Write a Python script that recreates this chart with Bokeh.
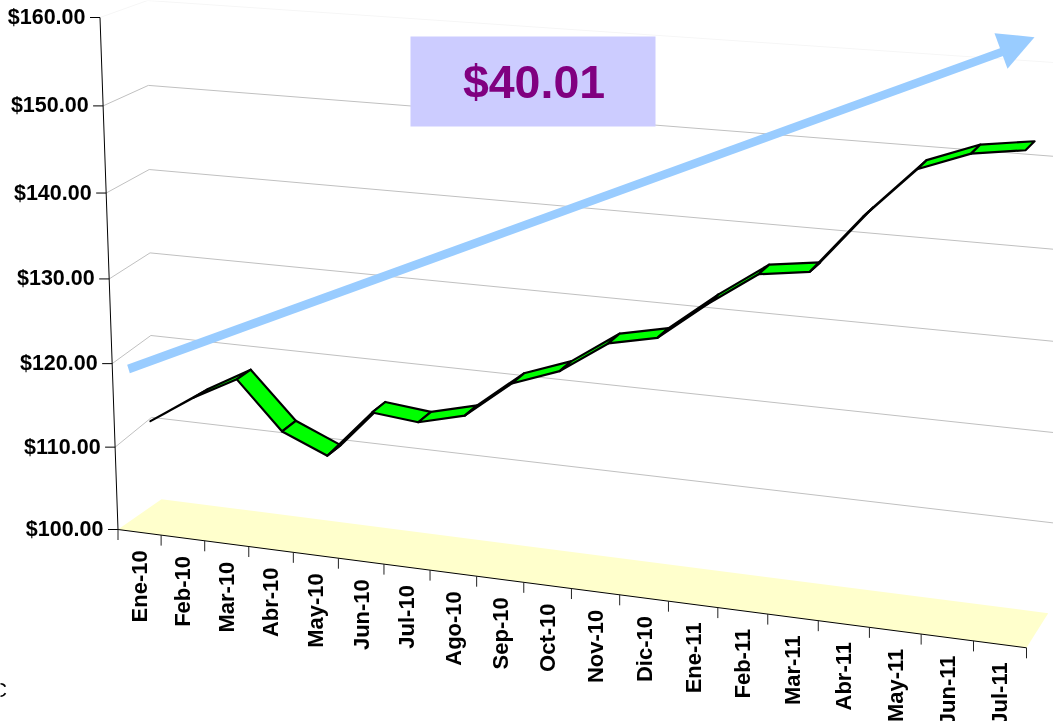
import numpy as np
from bokeh.plotting import figure
from bokeh.models import Range1d
from bokeh.core.properties import value
from bokeh.embed import file_html
from bokeh.resources import INLINE

# ---------- data ----------
months = ["Ene-10","Feb-10","Mar-10","Abr-10","May-10","Jun-10","Jul-10","Ago-10","Sep-10","Oct-10",
          "Nov-10","Dic-10","Ene-11","Feb-11","Mar-11","Abr-11","May-11","Jun-11","Jul-11"]
prices = [112.70,116.10,118.90,113.40,111.20,116.90,116.40,117.80,122.10,124.10,
          127.80,129.00,133.30,137.10,137.90,144.30,149.80,151.90,152.71]
y_ticks = [100,110,120,130,140,150,160]
y_labels = ["$100.00","$110.00","$120.00","$130.00","$140.00","$150.00","$160.00"]
gain_label = "$40.01"

# ---------- perspective set-up (page pixels) ----------
def homography(src, dst):
    A, b = [], []
    for (u, v), (x, y) in zip(src, dst):
        A.append([u, v, 1, 0, 0, 0, -u*x, -v*x]); b.append(x)
        A.append([0, 0, 0, u, v, 1, -u*y, -v*y]); b.append(y)
    return np.append(np.linalg.solve(np.array(A, float), np.array(b, float)), 1).reshape(3, 3)

def project(M, u, v):
    p = M @ np.array([u, v, 1.0])
    return p[0]/p[2], p[1]/p[2]

n = len(months)
CORNERS = [(0,100),(0,160),(n,100),(n,160)]
FRONT = homography(CORNERS, [(117.5,529),(99.5,17),(1026,647.3),(1050,79.3)])
BACK  = homography(CORNERS, [(152,498),(147,0),(1053,612),(1075,63.5)])

s = 9.4; lh = 512; ax, ay = 1025.0, 150.7; lx0, ly0 = 152.6, 421 + 12.3*lh/60
SER_CORNERS = [(0,100),(0,160),(n-1,100),(n-1,160)]
S_DST = [(lx0,ly0),(139.6,ly0-lh),(ax-20*52.35/60,ay+52.35*s),(ax+20*7.65/60,ay-7.65*s)]
RIB_FRONT = homography(SER_CORNERS, S_DST)
off = [(14.5,-11),(14.5,-11),(9,-9),(9,-9)]
RIB_BACK = homography(SER_CORNERS, [(x+o[0], y+o[1]) for (x,y),o in zip(S_DST,off)])
# the first ribbon segments are seen almost edge-on in the original
EDGE_ON = {0:0.72, 1:0.78, 2:0.9}

p = figure(width=1053, height=721, x_range=Range1d(0,1053), y_range=Range1d(721,0),
           output_backend="svg", toolbar_location=None, min_border=0,
           styles={"position":"fixed","left":"0px","top":"0px"})
p.xaxis.visible = False; p.yaxis.visible = False
p.grid.visible = False; p.outline_line_color = None
p.background_fill_color = "white"; p.border_fill_color = "white"

FONT = value("Liberation Sans")

# floor
fl, fr = project(FRONT,0,100), project(FRONT,n,100)
p.patch([fl[0],161,1047.7,fr[0]],[fl[1],498.7,612.7,fr[1]], fill_color="#FFFFCC", line_color=None)

# wall grid
for t in y_ticks[1:]:
    col = "#F6F6F6" if t == 160 else "#C0C0C0"
    a, b, c = project(FRONT,0,t), project(BACK,0,t), project(BACK,n,t)
    p.line([a[0],b[0],c[0]],[a[1],b[1],c[1]], line_color=col, line_width=1)

# value axis
top, bot = project(FRONT,0,160), project(FRONT,0,100)
p.line([top[0],bot[0]],[top[1],bot[1]], line_color="black", line_width=1)
for t, lab in zip(y_ticks, y_labels):
    x, y = project(FRONT,0,t)
    p.line([x-10,x],[y,y], line_color="black", line_width=1)
    p.text([x-14.5],[y-0.5],text=[lab],text_font=FONT,text_font_size="21.5px",text_font_style="bold",
           text_align="right",text_baseline="middle",text_color="black")

# category axis
p.line([fl[0],fr[0]],[fl[1],fr[1]], line_color="black", line_width=1)
for i in range(n+1):
    x, y = project(FRONT,i,100)
    p.line([x,x],[y,y+10.5], line_color="#222222", line_width=1)
for i, m in enumerate(months):
    x, y = project(FRONT,i+0.5,100)
    p.text([x],[y+18],text=[m],angle=np.pi/2,text_font=FONT,text_font_size="22px",text_font_style="bold",
           text_align="right",text_baseline="middle",text_color="black")

# ribbon
f = [project(RIB_FRONT,i,v) for i,v in enumerate(prices)]
b = [project(RIB_BACK,i,v) for i,v in enumerate(prices)]
b = [(bx, f[i][1] + (by-f[i][1])*EDGE_ON.get(i,1.0)) for i,(bx,by) in enumerate(b)]
xs = [[f[i][0],f[i+1][0],b[i+1][0],b[i][0]] for i in range(n-1)]
ys = [[f[i][1],f[i+1][1],b[i+1][1],b[i][1]] for i in range(n-1)]
p.patches(xs, ys, fill_color="#00FF00", line_color="black", line_width=2.2, line_join="round")

# trend arrow
p.patch([126.7,129.3,1004,1000.8],[364.3,372.7,55,47.3], fill_color="#99CCFF", line_color=None)
p.patch([994,1034,1007],[32.7,36.7,68.3], fill_color="#99CCFF", line_color=None)

# gain box
p.patch([410,655,655,410],[36,36,126,126], fill_color="#CCCCFF", line_color=None)
p.text([533.5],[81],text=[gain_label],text_font=FONT,text_font_size="46.5px",text_font_style="bold",
       text_align="center",text_baseline="middle",text_color="#800080")

# clipped stray label at the page edge
p.text([6.5],[689.5],text=["C"],text_font=FONT,text_font_size="20px",
       text_align="right",text_baseline="middle",text_color="black")

open("out.html","w").write(file_html(p, INLINE))
